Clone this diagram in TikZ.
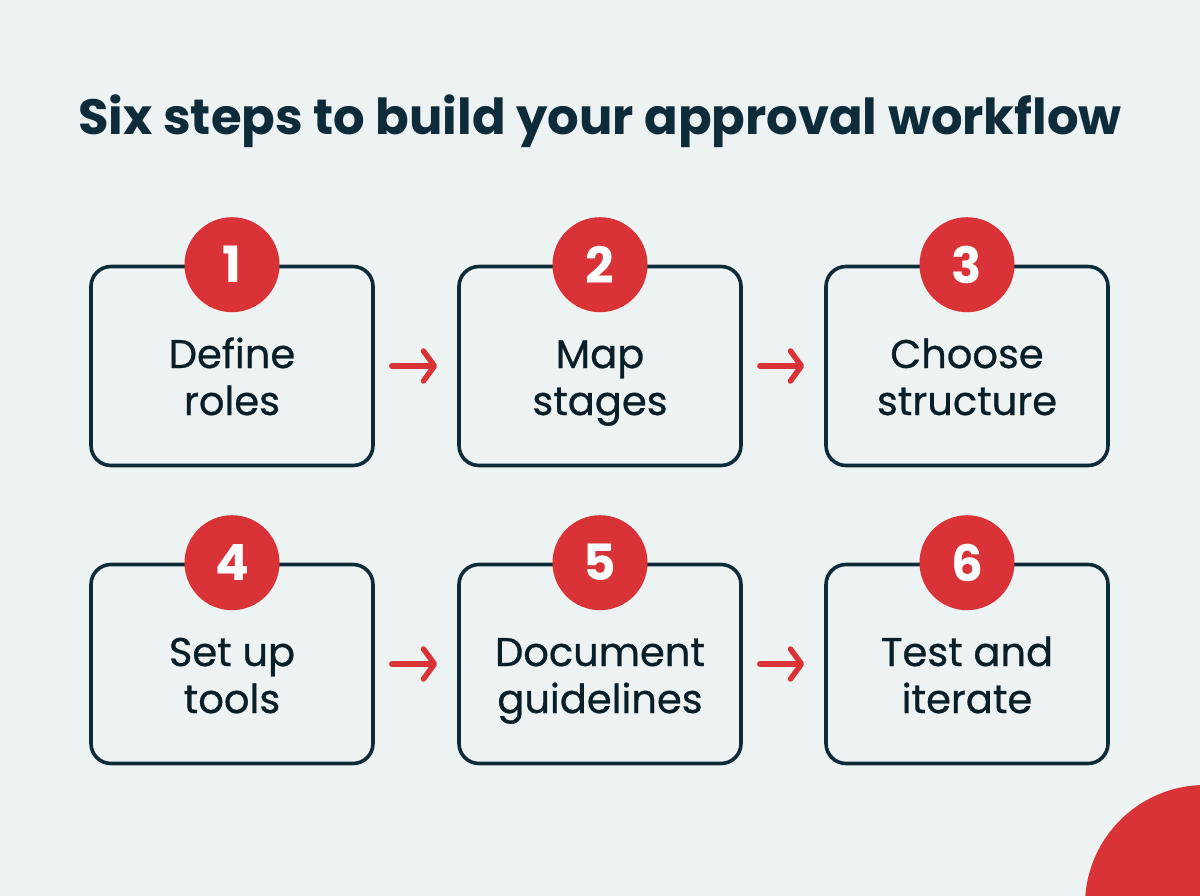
\documentclass[tikz,border=0pt]{standalone}
\usepackage{fontspec}
\setmainfont{Poppins}
\usetikzlibrary{arrows.meta}
\definecolor{bg}{HTML}{EDF2F3}
\definecolor{navy}{HTML}{0E2B39}
\definecolor{rd}{HTML}{D93337}
\begin{document}
\begin{tikzpicture}[x=1pt,y=-1pt,
  stepbox/.style={draw=navy,line width=3.6pt,rounded corners=20pt,minimum width=282pt,minimum height=199pt,inner sep=0pt},
  numdot/.style={circle,fill=rd,minimum size=95pt,inner sep=0pt,text=white,font=\fontsize{50}{50}\selectfont\bfseries},
  steptext/.style={anchor=base,text=navy!70!black,align=center,font=\fontsize{40}{47}\selectfont\addfontfeatures{FakeBold=0.7}},
  flow/.style={draw=rd,line width=5.5pt,line cap=round,-{Straight Barb[length=11pt,width=30pt,line cap=round,line join=round]}}]
\fill[bg] (0,0) rectangle (1200,896);
\useasboundingbox (0,0) rectangle (1200,896);
\begin{scope}
\clip (0,0) rectangle (1200,896);
\fill[rd] (1205,905) circle (120);
\end{scope}
\node[text=navy,font=\fontsize{49.6}{52}\selectfont\bfseries] (title) at (600,121) {Six steps to build your approval workflow};
\foreach \i/\x/\y in {1/232/366,2/600/366,3/967/366,4/232/664,5/600/664,6/967/664}{
  \node[stepbox] (b\i) at (\x,\y) {};
}
\node[steptext] (t1) at (232,415) {Define\\roles};
\node[steptext] (t2) at (600,415) {Map\\stages};
\node[steptext] (t3) at (967,415) {Choose\\structure};
\node[steptext] (t4) at (232,713) {Set up\\tools};
\node[steptext] (t5) at (600,713) {Document\\guidelines};
\node[steptext] (t6) at (967,713) {Test and\\iterate};
\foreach \i in {1,...,6}{
  \node[numdot] (n\i) at (b\i.north) {\i};
}
\draw[flow,shorten <=17pt,shorten >=20pt] (b1.east) -- (b2.west);
\draw[flow,shorten <=17pt,shorten >=20pt] (b2.east) -- (b3.west);
\draw[flow,shorten <=17pt,shorten >=20pt] (b4.east) -- (b5.west);
\draw[flow,shorten <=17pt,shorten >=20pt] (b5.east) -- (b6.west);
\end{tikzpicture}
\end{document}
